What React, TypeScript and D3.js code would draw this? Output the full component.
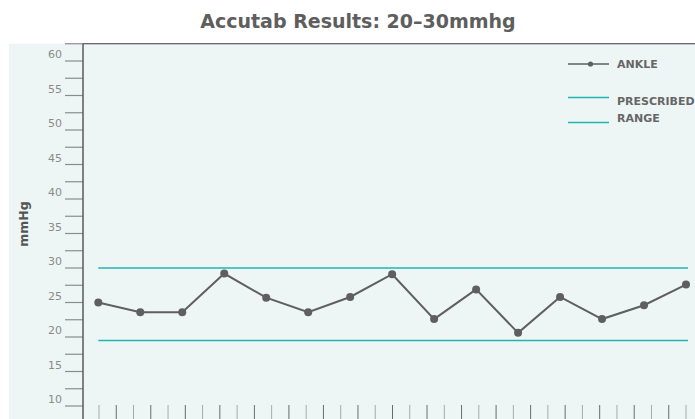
import * as d3 from "d3";

const readings = ["1", "2", "3", "4", "5", "6", "7", "8", "9", "10", "11", "12", "13", "14", "15"];
const ankle = [25, 23.6, 23.6, 29.2, 25.7, 23.6, 25.8, 29.1, 22.6, 26.9, 20.6, 25.8, 22.6, 24.6, 27.6];
const prescribedRange = [19.5, 30];
const yTicks = d3.range(10, 62.6, 2.5);
const yLabels = [10, 15, 20, 25, 30, 35, 40, 45, 50, 55, 60];
const xTicks = d3.range(0, 35);

const W = 695;
const H = 419;
const font = "'DejaVu Sans', 'Open Sans', sans-serif";

export default function App() {
  const y = d3.scaleLinear().domain([10, 60]).range([406, 61]);
  const xTick = d3.scaleLinear().domain([0, 34]).range([99, 686]);
  const x = d3.scalePoint<string>().domain(readings).range([98.3, 686]);

  const line = d3
    .line<number>()
    .x((_, i) => x(readings[i]) ?? 0)
    .y((d) => y(d));

  const axisX = 83;
  const topY = y(62.5);

  return (
    <svg
      width={W}
      height={H}
      style={{ position: "absolute", left: 0, top: 0, display: "block" }}
      fontFamily={font}
    >
      <rect x={0} y={0} width={W} height={H} fill="#ffffff" />
      <rect x={9} y={topY} width={W - 9} height={H - topY} fill="#eef6f5" />

      <text
        x={358}
        y={28}
        textAnchor="middle"
        fontSize={19}
        fontWeight={700}
        fill="#5e5e5e"
      >
        Accutab Results: 20–30mmhg
      </text>

      {/* y axis */}
      {yTicks.map((t) => (
        <line key={t} x1={65} x2={axisX} y1={y(t)} y2={y(t)} stroke="#8c8c8c" strokeWidth={1.2} />
      ))}
      {yLabels.map((t) => (
        <text key={t} x={62} y={y(t) - 3} textAnchor="end" fontSize={11} fill="#8a8a8a">
          {t}
        </text>
      ))}
      <line x1={axisX} x2={axisX} y1={topY} y2={H} stroke="#5a5a5a" strokeWidth={1.5} />
      <line x1={axisX} x2={W} y1={topY} y2={topY} stroke="#3a3a3a" strokeWidth={1.2} />

      <text
        transform={`translate(28, 224) rotate(-90)`}
        textAnchor="middle"
        fontSize={12.5}
        fontWeight={700}
        fill="#555555"
      >
        mmHg
      </text>

      {/* x ticks */}
      {xTicks.map((t) => (
        <line
          key={t}
          x1={xTick(t)}
          x2={xTick(t)}
          y1={405}
          y2={H}
          stroke={t % 2 === 0 ? "#a8a8a8" : "#6a6a6a"}
          strokeWidth={1}
        />
      ))}

      {/* prescribed range */}
      {prescribedRange.map((v) => (
        <line key={v} x1={98.3} x2={688} y1={y(v)} y2={y(v)} stroke="#1fb5b0" strokeWidth={1.6} />
      ))}

      {/* ankle series */}
      <path d={line(ankle) ?? ""} fill="none" stroke="#5f5f5f" strokeWidth={2} />
      {ankle.map((v, i) => (
        <circle key={i} cx={x(readings[i])} cy={y(v)} r={4} fill="#5f5f5f" />
      ))}

      {/* legend */}
      <line x1={568} x2={609} y1={64} y2={64} stroke="#5f5f5f" strokeWidth={1.5} />
      <circle cx={590.5} cy={64} r={2.6} fill="#5f5f5f" />
      <text x={617} y={68} fontSize={11} fontWeight={700} fill="#666666">
        ANKLE
      </text>
      <line x1={568} x2={609} y1={97.5} y2={97.5} stroke="#1fb5b0" strokeWidth={1.5} />
      <line x1={568} x2={609} y1={122.5} y2={122.5} stroke="#1fb5b0" strokeWidth={1.5} />
      <text x={617} y={105} fontSize={11} fontWeight={700} fill="#666666">
        PRESCRIBED
      </text>
      <text x={617} y={122} fontSize={11} fontWeight={700} fill="#666666">
        RANGE
      </text>
    </svg>
  );
}
